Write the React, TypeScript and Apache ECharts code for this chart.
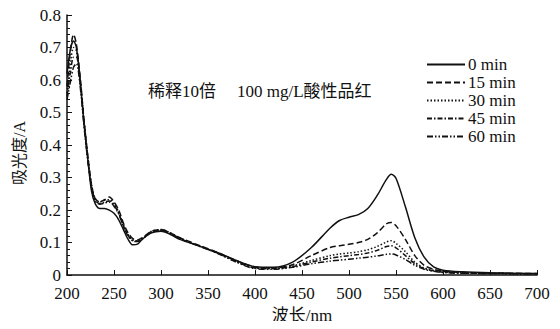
import React, { useEffect, useRef } from "react";
import * as echarts from "echarts";

const wavelengths = [200, 204, 207, 210, 214, 218, 222, 226, 230, 235, 240, 245, 250, 255, 260, 265, 270, 275, 280, 290, 300, 310, 320, 340, 360, 380, 400, 420, 440, 460, 480, 490, 500, 510, 520, 530, 540, 545, 550, 560, 570, 580, 590, 600, 620, 650, 700];

const min0 = [0.62, 0.70, 0.72, 0.70, 0.60, 0.47, 0.36, 0.26, 0.22, 0.205, 0.205, 0.2, 0.19, 0.17, 0.14, 0.11, 0.093, 0.095, 0.11, 0.13, 0.135, 0.125, 0.11, 0.09, 0.07, 0.045, 0.026, 0.024, 0.04, 0.085, 0.145, 0.168, 0.178, 0.186, 0.205, 0.245, 0.295, 0.31, 0.298, 0.21, 0.115, 0.055, 0.025, 0.015, 0.01, 0.007, 0.005];
const min15 = [0.58, 0.70, 0.74, 0.71, 0.61, 0.48, 0.37, 0.28, 0.235, 0.225, 0.232, 0.24, 0.225, 0.2, 0.16, 0.13, 0.112, 0.108, 0.115, 0.135, 0.14, 0.13, 0.115, 0.092, 0.07, 0.045, 0.025, 0.022, 0.032, 0.06, 0.085, 0.09, 0.095, 0.1, 0.11, 0.13, 0.158, 0.162, 0.152, 0.11, 0.06, 0.03, 0.018, 0.012, 0.008, 0.006, 0.005];
const min30 = [0.56, 0.66, 0.70, 0.69, 0.60, 0.48, 0.37, 0.28, 0.235, 0.225, 0.23, 0.232, 0.22, 0.195, 0.155, 0.125, 0.108, 0.105, 0.112, 0.135, 0.14, 0.13, 0.115, 0.09, 0.068, 0.042, 0.022, 0.02, 0.028, 0.045, 0.06, 0.065, 0.068, 0.072, 0.078, 0.088, 0.102, 0.106, 0.098, 0.072, 0.04, 0.022, 0.015, 0.01, 0.007, 0.005, 0.004];
const min45 = [0.55, 0.63, 0.67, 0.67, 0.59, 0.47, 0.36, 0.275, 0.23, 0.22, 0.225, 0.228, 0.215, 0.19, 0.152, 0.122, 0.106, 0.104, 0.112, 0.133, 0.138, 0.128, 0.113, 0.09, 0.068, 0.042, 0.022, 0.02, 0.026, 0.04, 0.052, 0.056, 0.06, 0.063, 0.068, 0.076, 0.088, 0.09, 0.084, 0.06, 0.035, 0.02, 0.013, 0.009, 0.006, 0.005, 0.004];
const min60 = [0.54, 0.60, 0.64, 0.65, 0.58, 0.46, 0.355, 0.27, 0.228, 0.218, 0.222, 0.225, 0.212, 0.188, 0.15, 0.12, 0.105, 0.103, 0.11, 0.132, 0.137, 0.127, 0.112, 0.09, 0.067, 0.04, 0.02, 0.018, 0.024, 0.035, 0.043, 0.046, 0.049, 0.052, 0.055, 0.059, 0.064, 0.065, 0.062, 0.048, 0.03, 0.018, 0.012, 0.008, 0.006, 0.005, 0.004];

const seriesNames = ["0 min", "15 min", "30 min", "45 min", "60 min"];
const seriesValues = [min0, min15, min30, min45, min60];
const dashTypes: any[] = ["solid", [6, 3], [1.5, 2], [5, 2, 1.5, 2], [6, 2, 1.5, 2, 1.5, 2]];

const annotationLeft = "稀释10倍";
const annotationRight = "100 mg/L酸性品红";
const serif = "'Liberation Serif', 'Times New Roman', 'Noto Sans CJK SC', serif";

export default function App() {
  const ref = useRef<HTMLDivElement>(null);
  useEffect(() => {
    if (!ref.current) return;
    const chart = echarts.init(ref.current, undefined, { renderer: "svg" });
    chart.setOption({
      animation: false,
      backgroundColor: "#fff",
      textStyle: { fontFamily: serif, color: "#111" },
      grid: { left: 67, right: 23, top: 15, bottom: 49 },
      legend: {
        orient: "vertical",
        left: 421,
        top: 51,
        itemWidth: 38,
        itemHeight: 14,
        itemGap: 1,
        data: seriesNames,
        itemStyle: { opacity: 0 },
        textStyle: { fontFamily: serif, fontSize: 17, lineHeight: 17, color: "#111", padding: [0, 0, 0, -2] },
      },
      graphic: [
        {
          type: "text",
          left: 148,
          top: 83,
          style: { text: annotationLeft, font: `17px ${serif}`, fill: "#111" },
        },
        {
          type: "text",
          left: 237,
          top: 83,
          style: { text: annotationRight, font: `17px ${serif}`, fill: "#111" },
        },
      ],
      xAxis: {
        type: "value",
        min: 200,
        max: 700,
        interval: 50,
        name: "波长/nm",
        nameLocation: "middle",
        nameGap: 31,
        nameTextStyle: { fontFamily: serif, fontSize: 17, color: "#111" },
        axisLine: { lineStyle: { color: "#111", width: 1.5 } },
        axisTick: { inside: true, length: 5, lineStyle: { color: "#111" } },
        axisLabel: { fontFamily: serif, fontSize: 17, color: "#111", margin: 10 },
        splitLine: { show: false },
      },
      yAxis: {
        type: "value",
        min: 0,
        max: 0.8,
        interval: 0.1,
        name: "吸光度/A",
        nameLocation: "middle",
        nameGap: 40,
        nameTextStyle: { fontFamily: serif, fontSize: 16, color: "#111", padding: [0, 16, 0, 0] },
        axisLine: { show: true, lineStyle: { color: "#111", width: 1.5 } },
        axisTick: { show: true, inside: true, length: 5, lineStyle: { color: "#111" } },
        minorTick: { show: true, splitNumber: 5, length: 3, lineStyle: { color: "#111" } },
        axisLabel: {
          fontFamily: serif,
          fontSize: 17,
          color: "#111",
          margin: 6,
          formatter: (v: number) => (v === 0 ? "0" : v.toFixed(1)),
        },
        splitLine: { show: false },
      },
      series: seriesNames.map((name, i) => ({
        name,
        type: "line",
        smooth: 0.3,
        showSymbol: false,
        symbol: "none",
        data: wavelengths.map((w, j) => [w, seriesValues[i][j]]),
        lineStyle: { color: "#111", width: 1.5, type: dashTypes[i] },
        itemStyle: { color: "#111" },
      })),
    });
    return () => chart.dispose();
  }, []);
  return <div ref={ref} style={{ width: 560, height: 329, margin: -8 }} />;
}
